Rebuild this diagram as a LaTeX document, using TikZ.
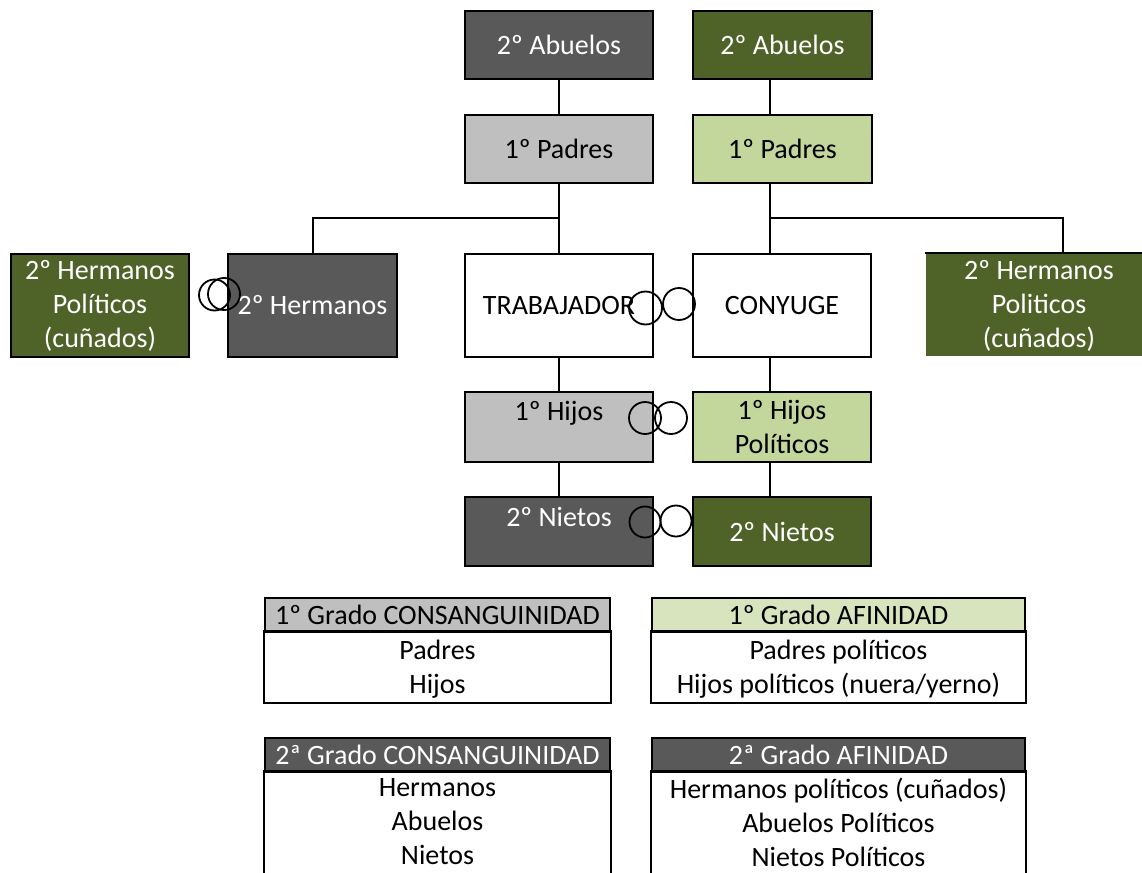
\documentclass[tikz,border=0pt]{standalone}
\usepackage{fontspec}
\setmainfont{Carlito}
\definecolor{dgray}{HTML}{595959}
\definecolor{dgreen}{HTML}{4F6228}
\definecolor{lgray}{HTML}{BFBFBF}
\definecolor{lgreen}{HTML}{C3D69B}
\definecolor{hgreen}{HTML}{D7E4BD}
\begin{document}
\begin{tikzpicture}[x=1pt,y=-1pt,
  font=\fontsize{28}{34}\selectfont,
  line width=2pt,
  box/.style={draw=black, line width=2pt, inner sep=0pt, align=center},
  darkbox/.style={box, fill=dgray, text=white},
  greenbox/.style={box, fill=dgreen, text=white},
  greybox/.style={box, fill=lgray},
  lgreenbox/.style={box, fill=lgreen},
  whitebox/.style={box, fill=white},
  txt/.style={inner sep=0pt, align=center},
  ring/.style={draw=black, circle, line width=1.8pt, inner sep=0pt, minimum size=32pt},
  hdr/.style={draw=black, line width=2pt, inner sep=0pt, minimum width=345pt, minimum height=34pt},
  hdrR/.style={hdr, minimum width=373pt},
  tbody/.style={inner sep=0pt, minimum width=345pt},
  tbodyR/.style={tbody, minimum width=373pt}
]
\useasboundingbox (0,0) rectangle (1142,872);

% top rows
\node[darkbox, minimum width=188pt, minimum height=68pt] (abL) at (559,45) {2º Abuelos};
\node[greenbox, minimum width=179pt, minimum height=68pt] (abR) at (782.5,45) {2º Abuelos};
\node[greybox, minimum width=188pt, minimum height=68pt] (padL) at (559,149) {1º Padres};
\node[lgreenbox, minimum width=179pt, minimum height=68pt] (padR) at (782.5,149) {1º Padres};

% third row
\node[greenbox, minimum width=178pt, minimum height=103pt] (cunL) at (100,305.5) {2º Hermanos\\Políticos\\(cuñados)};
\node[darkbox, minimum width=169pt, minimum height=103pt] (herL) at (312.5,305.5) {2º Hermanos};
\node[whitebox, minimum width=188pt, minimum height=103pt] (trab) at (559,305.5) {TRABAJADOR};
\node[whitebox, minimum width=178pt, minimum height=103pt] (cony) at (782,305.5) {CONYUGE};
\node[fill=dgreen, inner sep=0pt, minimum width=216pt, minimum height=102pt] (cunR) at (1034,305) {};
\draw (cunR.north west) -- (cunR.north east);
\node[txt, text=white] (cunRt) at (1039,306) {2º Hermanos\\Politicos\\(cuñados)};

% lower rows
\node[greybox, minimum width=188pt, minimum height=70pt] (hijL) at (559,427) {};
\node[txt] (hijLt) at (559,413) {1º Hijos};
\node[lgreenbox, minimum width=178pt, minimum height=70pt] (hijR) at (782,427) {1º Hijos\\Políticos};
\node[darkbox, minimum width=188pt, minimum height=69pt] (nieL) at (559,531.5) {};
\node[txt, text=white] (nieLt) at (559,517) {2º Nietos};
\node[greenbox, minimum width=178pt, minimum height=69pt] (nieR) at (782,531.5) {2º Nietos};

% connectors
\coordinate (jL) at (559,218);
\coordinate (jR) at (770,218);
\coordinate (cR) at (1063,254);
\draw (abL) -- (padL);
\draw (padL) -- (trab);
\draw (herL.north) |- (jL);
\draw (trab) -- (hijL);
\draw (hijL) -- (nieL);
\draw (abR.south -| jR) -- (padR.north -| jR);
\draw (padR.south -| jR) -- (cony.north -| jR);
\draw (jR) -| (cR);
\draw (cony.south -| jR) -- (hijR.north -| jR);
\draw (hijR.south -| jR) -- (nieR.north -| jR);

% rings
\node[ring, minimum size=31pt] (rH1) at (214.5,295) {};
\node[ring, minimum size=32pt] (rH2) at (224,294) {};
\node[ring, minimum size=33pt] (rT1) at (645.5,308) {};
\node[ring, minimum size=32pt] (rT2) at (679,304) {};
\node[ring] (rJ1) at (645,418) {};
\node[ring] (rJ2) at (671,418) {};
\node[ring, minimum size=31pt] (rN1) at (645,522) {};
\node[ring, minimum size=31pt] (rN2) at (676,521) {};

% legend tables
\node[hdr, fill=lgray] (t1h) at (437.5,615) {1º Grado CONSANGUINIDAD};
\node[tbody, minimum height=70pt] (t1b) at (437.5,667) {};
\draw (t1b.north west) rectangle (t1b.south east);
\node[txt] (t1t) at (437.5,669) {Padres\\Hijos};

\node[hdrR, fill=hgreen] (t2h) at (838.5,615) {1º Grado AFINIDAD};
\node[tbodyR, minimum height=70pt] (t2b) at (838.5,667) {};
\draw (t2b.north west) rectangle (t2b.south east);
\node[txt] (t2t) at (838.5,669) {Padres políticos\\Hijos políticos (nuera/yerno)};

\node[hdr, fill=dgray, text=white] (t3h) at (437.5,754.5) {2ª Grado CONSANGUINIDAD};
\node[tbody, minimum height=100pt] (t3b) at (437.5,822) {};
\draw (t3b.south west) -- (t3b.north west) -- (t3b.north east) -- (t3b.south east);
\node[txt] (t3t) at (437.5,822) {Hermanos\\Abuelos\\Nietos};

\node[hdrR, fill=dgray, text=white] (t4h) at (838.5,754.5) {2ª Grado AFINIDAD};
\node[tbodyR, minimum height=100pt] (t4b) at (838.5,822) {};
\draw (t4b.south west) -- (t4b.north west) -- (t4b.north east) -- (t4b.south east);
\node[txt] (t4t) at (838.5,822) {Hermanos políticos (cuñados)\\Abuelos Políticos\\Nietos Políticos};
\end{tikzpicture}
\end{document}
